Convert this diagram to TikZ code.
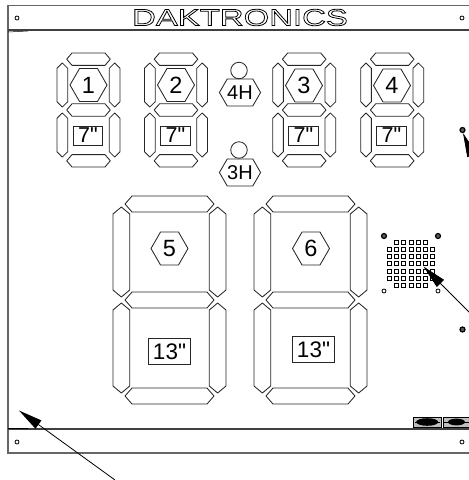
\documentclass[tikz,border=0pt]{standalone}
\usepackage{fontspec}
\newfontfamily\labelfont{Liberation Sans}
\newfontfamily\titlefont[FakeStretch=1.4]{Liberation Sans}
\usetikzlibrary{shapes.symbols, arrows.meta}
\tikzset{
    seg/.style={draw=black!85, line width=0.85pt, line join=round},
    frame/.style={draw=black!75, line width=1.3pt},
    outerframe/.style={draw=black!60, line width=1.5pt},
    hexlabel/.style={signal, signal to=west and east, signal pointer angle=120, draw=black!85, line width=0.85pt, inner sep=0pt, minimum width=37pt, minimum height=33pt, font=\labelfont\fontsize{23.5}{23.5}\selectfont},
    hourlabel/.style={hexlabel, minimum width=36pt, minimum height=27pt, font=\labelfont\fontsize{20}{20}\selectfont},
    sizebox/.style={rectangle, draw=black!85, line width=0.85pt, inner sep=0pt, minimum width=29.5pt, minimum height=19pt, font=\labelfont\fontsize{21.5}{21.5}\selectfont},
    bigsizebox/.style={sizebox, minimum width=42pt, minimum height=25.5pt, font=\labelfont\fontsize{22.5}{22.5}\selectfont},
    hole/.style={circle, draw=black, line width=0.8pt, inner sep=0pt, minimum size=4pt},
    screw/.style={circle, draw=black, fill=black!65, line width=1.2pt, inner sep=0pt, minimum size=5pt},
    lamp/.style={circle, draw=black!85, line width=0.85pt, inner sep=0pt, minimum size=16.5pt},
    callout/.style={-{Triangle[length=24pt,width=10pt]}, line width=0.8pt}
}
% x, y, width, height, side bar, cross bar, tip inset, chamfer, side bar start
\newcommand{\sevenseg}[9]{
    \begin{scope}[shift={(#1,#2)}]
        \foreach \yy in {0,{(#4-#6)/2},{#4-#6}}
            \draw[seg] (#7,{\yy+#6/2}) -- ({#7+#8},{\yy}) -- ({#3-#7-#8},{\yy}) -- ({#3-#7},{\yy+#6/2}) -- ({#3-#7-#8},{\yy+#6}) -- ({#7+#8},{\yy+#6}) -- cycle;
        \foreach \xx in {0,{#3-#5}} {
            \draw[seg] ({\xx+#5/2},#9) -- ({\xx},{#9+#8}) -- ({\xx},{#4/2-3-#8}) -- ({\xx+#5/2},{#4/2-3}) -- ({\xx+#5},{#4/2-3-#8}) -- ({\xx+#5},{#9+#8}) -- cycle;
            \draw[seg] ({\xx+#5/2},{#4/2+3}) -- ({\xx},{#4/2+3+#8}) -- ({\xx},{#4-#9-#8}) -- ({\xx+#5/2},{#4-#9}) -- ({\xx+#5},{#4-#9-#8}) -- ({\xx+#5},{#4/2+3+#8}) -- cycle;
        }
    \end{scope}
}
\newcommand{\smalldigit}[2]{\sevenseg{#1}{#2}{63}{114}{10.7}{12.4}{9.7}{5.3}{10}}
\newcommand{\bigdigit}[2]{\sevenseg{#1}{#2}{113}{208}{16.7}{16}{12}{7}{11}}
\begin{document}
\begin{tikzpicture}[x=1pt, y=-1pt]
    \useasboundingbox (0,0) rectangle (469,480);
    
    % Cabinet
    \draw[outerframe] (469,5.5) -- (8,5.5) -- (8,453) -- (469,453);
    \draw[frame] (8,30) -- (469,30);
    \draw[frame] (8,429) -- (469,429);
    \draw[line width=0.5pt] (8,32) -- (28,31);
    \draw[line width=0.5pt] (8,428) -- (28,428);
    
    % Corner holes
    \node[hole] (holeA) at (17,18) {};
    \node[hole] (holeB) at (462,18) {};
    \node[hole] (holeC) at (17,442) {};
    \node[hole] (holeD) at (462,442) {};
    
    % Name
    \node (name) at (240,17.5) {\titlefont\fontsize{23.5}{23.5}\selectfont\special{pdf:code 1 Tr 0.8 w}DAKTRONICS\special{pdf:code 0 Tr}};
    
    % Small digits
    \smalldigit{57}{53}
    \smalldigit{144.5}{53}
    \smalldigit{272.7}{53}
    \smalldigit{360.7}{53}
    \node[hexlabel] (one) at (88.5,85) {1};
    \node[hexlabel] (two) at (176,85) {2};
    \node[hexlabel] (three) at (304,85.5) {3};
    \node[hexlabel] (four) at (392,85.5) {4};
    \node[sizebox] (sizeA) at (88,135.5) {7"};
    \node[sizebox] (sizeB) at (175.5,135.5) {7"};
    \node[sizebox] (sizeC) at (303.5,135.5) {7"};
    \node[sizebox] (sizeD) at (391.5,135.5) {7"};
    
    % Hour digits
    \node[lamp] (lampA) at (239,70.5) {};
    \node[hourlabel] (fourH) at (240,92.5) {4H};
    \node[lamp] (lampB) at (239,150) {};
    \node[hourlabel] (threeH) at (240,172.5) {3H};
    
    % Big digits
    \bigdigit{113}{196}
    \bigdigit{254}{196}
    \node[hexlabel] (five) at (169.5,248.5) {5};
    \node[hexlabel] (six) at (311,248.5) {6};
    \node[bigsizebox] (sizeE) at (169.5,351.3) {13"};
    \node[bigsizebox] (sizeF) at (313.5,349.5) {13"};
    
    % Speaker
    \foreach \row in {0,6}
        \foreach \col in {1,...,5}
            \draw[line width=1pt] ({389.7+7.1*\col-2},{242.3+7.2*\row-2}) rectangle ++(4,4);
    \foreach \row in {1,...,5}
        \foreach \col in {0,...,6}
            \draw[line width=1pt] ({389.7+7.1*\col-2},{242.3+7.2*\row-2}) rectangle ++(4,4);
    \node[screw] (screwA) at (384,236) {};
    \node[screw] (screwB) at (438,236) {};
    \node[hole] (holeE) at (384,291) {};
    \node[hole] (holeF) at (438,291) {};
    \node[screw] (screwC) at (462.5,130) {};
    \node[screw] (screwD) at (462.5,329.5) {};
    
    % Connectors
    \draw[fill=black!25, line width=0.5pt] (413.5,417) rectangle ++(27.5,10.5);
    \draw[fill=black!25, line width=0.5pt] (443,417) rectangle ++(27,10.5);
    \fill[black] (427.2,422) ellipse (11 and 3.8);
    \fill[black] (456.5,422) ellipse (8.5 and 3.4);
    \draw[line width=1pt] (415,422) -- (440,422);
    \draw[line width=1pt] (444,422) -- (469,422);
    
    % Callouts
    \coordinate (speakerEnd) at (490,333);
    \coordinate (speakerTip) at (423.5,266.5);
    \coordinate (panelEnd) at (115,480);
    \coordinate (panelTip) at (19,410.5);
    \coordinate (screwEnd) at (480,175);
    \coordinate (screwTip) at (463,133);
    \draw[callout] (speakerEnd) -- (speakerTip);
    \draw[callout] (panelEnd) -- (panelTip);
    \draw[callout] (screwEnd) -- (screwTip);
\end{tikzpicture}
\end{document}
